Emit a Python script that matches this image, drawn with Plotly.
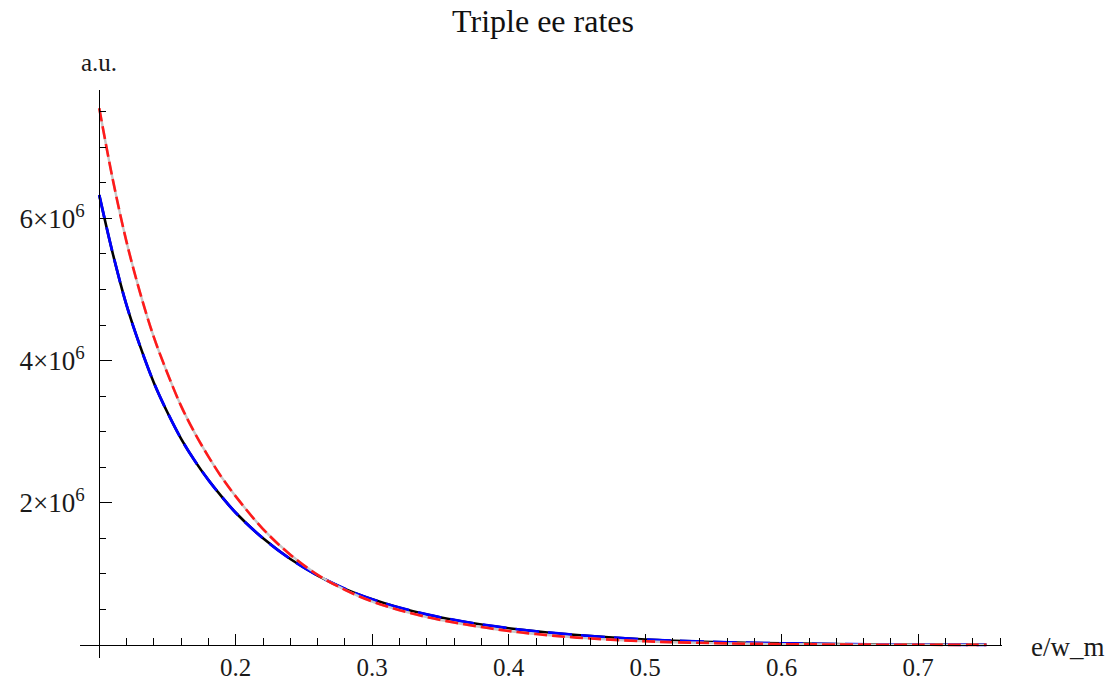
import numpy as np
import plotly.graph_objects as go

# Data (y in units of 1e6)
x_vals = [0.10, 0.11, 0.12, 0.13, 0.14, 0.15, 0.16, 0.17, 0.18, 0.19, 0.20,
          0.22, 0.24, 0.26, 0.28, 0.30, 0.32, 0.34, 0.36, 0.38, 0.40, 0.42,
          0.45, 0.50, 0.55, 0.60, 0.65, 0.70, 0.75]
blue_vals = [6.33, 5.50, 4.78, 4.20, 3.69, 3.27, 2.90, 2.59, 2.32, 2.08, 1.86,
             1.50, 1.21, 0.977, 0.79, 0.643, 0.525, 0.43, 0.352, 0.288, 0.236, 0.193,
             0.14, 0.078, 0.043, 0.022, 0.011, 0.0055, 0.0027]
red_vals = [7.55, 6.54, 5.67, 4.95, 4.33, 3.82, 3.36, 2.98, 2.65, 2.35, 2.09,
            1.63, 1.27, 0.987, 0.776, 0.611, 0.49, 0.393, 0.316, 0.253, 0.197, 0.154,
            0.104, 0.052, 0.026, 0.0123, 0.0058, 0.0027, 0.0013]

x_major = [0.2, 0.3, 0.4, 0.5, 0.6, 0.7]
x_major_text = ["0.2", "0.3", "0.4", "0.5", "0.6", "0.7"]
y_major = [2e6, 4e6, 6e6]
y_major_text = ["2×10<sup>6</sup>", "4×10<sup>6</sup>", "6×10<sup>6</sup>"]

x_range = [0.0859, 0.7614]
y_range = [-0.183e6, 7.806e6]

x_minor = [round(v, 2) for v in np.arange(0.12, 0.761, 0.02)
           if all(abs(v - m) > 1e-6 for m in x_major)]
y_minor = [v * 1e6 for v in np.arange(0.5, 7.51, 0.5)
           if all(abs(v * 1e6 - m) > 1 for m in y_major)]

xs = x_vals
yb = [v * 1e6 for v in blue_vals]
yr = [v * 1e6 for v in red_vals]

fig = go.Figure()
fig.add_trace(go.Scatter(x=xs, y=yb, mode="lines", line=dict(color="black", width=2.6, shape="spline"),
                         showlegend=False, hoverinfo="skip"))
fig.add_trace(go.Scatter(x=xs, y=yb, mode="lines",
                         line=dict(color="#0000ff", width=2.8, shape="spline", dash="24px,9px"),
                         showlegend=False))
fig.add_trace(go.Scatter(x=xs, y=yr, mode="lines", line=dict(color="#c8c8c8", width=2.4, shape="spline"),
                         showlegend=False, hoverinfo="skip"))
fig.add_trace(go.Scatter(x=xs, y=yr, mode="lines",
                         line=dict(color="#ff1a1a", width=2.6, shape="spline", dash="13px,5px"),
                         showlegend=False))

xpos = (0 - y_range[0]) / (y_range[1] - y_range[0])
ypos = (0.1 - x_range[0]) / (x_range[1] - x_range[0])

font = "Liberation Serif, Times New Roman, serif"
fig.update_layout(
    width=1107, height=684,
    margin=dict(l=80, r=105, t=90, b=26, autoexpand=False),
    plot_bgcolor="white", paper_bgcolor="white",
    font=dict(family=font, color="#1a1a1a"),
    title=dict(text="Triple ee rates", x=543 / 1107, xref="container", xanchor="center",
               y=1 - 21 / 684, yref="container", yanchor="middle",
               font=dict(family=font, size=32, color="#111")),
    xaxis=dict(range=x_range, anchor="free", position=xpos, showgrid=False, zeroline=False,
               automargin=False,
               showline=True, linecolor="black", linewidth=1.3,
               tickmode="array", tickvals=x_major, ticktext=x_major_text,
               ticks="inside", ticklen=11, tickwidth=1.3, tickcolor="black",
               ticklabelstandoff=0,
               tickfont=dict(family=font, size=25, color="#1a1a1a"),
               minor=dict(tickmode="array", tickvals=x_minor, ticks="inside", ticklen=7,
                          tickwidth=1.1, tickcolor="black", showgrid=False)),
    yaxis=dict(range=y_range, anchor="free", position=ypos, showgrid=False, zeroline=False,
               automargin=False,
               showline=True, linecolor="black", linewidth=1.3,
               tickmode="array", tickvals=y_major, ticktext=y_major_text,
               ticks="inside", ticklen=12, tickwidth=1.3, tickcolor="black",
               ticklabelstandoff=9,
               tickfont=dict(family=font, size=27, color="#1a1a1a"),
               minor=dict(tickmode="array", tickvals=y_minor, ticks="inside", ticklen=6,
                          tickwidth=1.1, tickcolor="black", showgrid=False)),
    annotations=[
        dict(text="a.u.", xref="paper", yref="paper", x=(99 - 80) / 922, y=(658 - 62) / 568,
             xanchor="center", yanchor="middle", showarrow=False,
             font=dict(family=font, size=25, color="#1a1a1a")),
        dict(text="e/w_m", xref="paper", yref="paper", x=(1029 - 80) / 922, y=(658 - 647) / 568,
             xanchor="left", yanchor="middle", showarrow=False,
             font=dict(family=font, size=27, color="#1a1a1a")),
    ],
)

fig.write_html("out.html")
